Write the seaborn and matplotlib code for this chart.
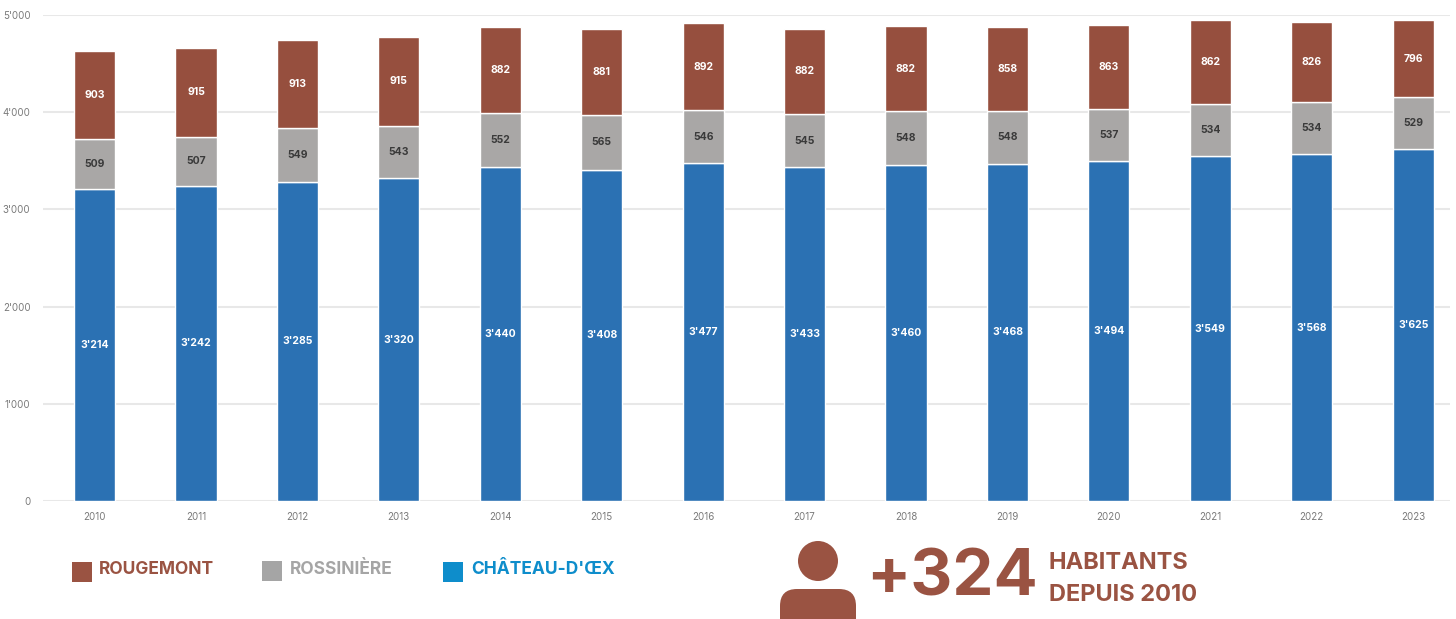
import numpy as np
import pandas as pd
import matplotlib
matplotlib.use('Agg')
import matplotlib.pyplot as plt
from matplotlib.patches import Circle, FancyBboxPatch, Rectangle
import seaborn as sns

years = ['2010', '2011', '2012', '2013', '2014', '2015', '2016',
         '2017', '2018', '2019', '2020', '2021', '2022', '2023']
chateau = [3214, 3242, 3285, 3320, 3440, 3408, 3477, 3433, 3460, 3468, 3494, 3549, 3568, 3625]
rossiniere = [509, 507, 549, 543, 552, 565, 546, 545, 548, 548, 537, 534, 534, 529]
rougemont = [903, 915, 913, 915, 882, 881, 892, 882, 882, 858, 863, 862, 826, 796]
y_ticks = [0, 1000, 2000, 3000, 4000, 5000]
y_tick_labels = ['0', "1'000", "2'000", "3'000", "4'000", "5'000"]

BROWN = '#964F3E'
GREY = '#A9A7A6'
BLUE = '#2B71B3'

W, H = 1456, 619

sns.set_style('white')
plt.rcParams['font.family'] = ['Inter', 'DejaVu Sans']

df = pd.DataFrame({'year': years, 'chateau': chateau, 'rossiniere': rossiniere, 'rougemont': rougemont})


def thousands(v):
    # swiss style thousands separator
    return f"{int(v):,}".replace(',', "'")


fig = plt.figure(figsize=(W / 100, H / 100), dpi=100)
ax = fig.add_axes([43 / W, (H - 501) / H, 1407 / W, 486 / H])

# stacked bars, bottom to top
sns.barplot(data=df, x='year', y='chateau', color=BLUE, saturation=1, width=0.405, ax=ax)
sns.barplot(data=df, x='year', y='rossiniere', bottom=df['chateau'], color=GREY,
            saturation=1, width=0.405, ax=ax)
sns.barplot(data=df, x='year', y='rougemont', bottom=df['chateau'] + df['rossiniere'], color=BROWN,
            saturation=1, width=0.405, ax=ax)

label_colors = ['white', '#3A3A3A', 'white']
for container, values, col in zip(ax.containers, [chateau, rossiniere, rougemont], label_colors):
    ax.bar_label(container, labels=[thousands(v) for v in values], label_type='center',
                 color=col, fontsize=7.5, fontweight='bold')

ax.set_xlim(-0.508, 13.363)
ax.set_ylim(0, 5000)
ax.set_yticks(y_ticks)
ax.set_yticklabels(y_tick_labels)
ax.set_xlabel('')
ax.set_ylabel('')
ax.grid(axis='y', color='#E8E8E8', linewidth=1.5)
ax.set_axisbelow(True)
ax.tick_params(axis='both', length=0, labelsize=7, labelcolor='#7A7A7A')
ax.tick_params(axis='x', pad=8)
ax.tick_params(axis='y', pad=9)
for label in ax.get_yticklabels():
    label.set_clip_on(False)
sns.despine(ax=ax, left=True, top=True, right=True, bottom=True)

# overlay in pixel coords for the legend and the callout
over = fig.add_axes([0, 0, 1, 1], facecolor='none')
over.set_xlim(0, W)
over.set_ylim(H, 0)
over.axis('off')

legend_items = [
    (72, 562, '#9A5342', 'ROUGEMONT', 99, '#9A5342'),
    (262, 561, '#A5A5A5', 'ROSSINIÈRE', 290, '#A5A5A5'),
    (443, 562, '#0E8DCB', "CHÂTEAU-D'ŒX", 471, '#0E8DCB'),
]
for sx, sy, fill, name, tx, tcol in legend_items:
    over.add_patch(Rectangle((sx, sy), 20, 20, color=fill, lw=0))
    over.text(tx, 570, name, color=tcol, fontsize=12.5, fontweight='bold', va='center', ha='left')

# person icon
over.add_patch(Circle((818, 561), 20, color='#9A5342', lw=0))
over.add_patch(FancyBboxPatch((792, 601), 52, 40, boxstyle='round,pad=0,rounding_size=0', color='#9A5342', lw=0))
over.add_patch(FancyBboxPatch((780, 589), 76, 60, boxstyle='round,pad=0,rounding_size=17',
                              color='#9A5342', lw=0, clip_on=True))

over.text(866, 578, '+324', color='#9A5342', fontsize=47, fontweight='bold', va='center', ha='left')
over.text(1049, 563, 'HABITANTS', color='#9A5342', fontsize=17, fontweight='bold', va='center', ha='left')
over.text(1049, 595, 'DEPUIS 2010', color='#9A5342', fontsize=17, fontweight='bold', va='center', ha='left')

fig.savefig('out.png', dpi=100)
